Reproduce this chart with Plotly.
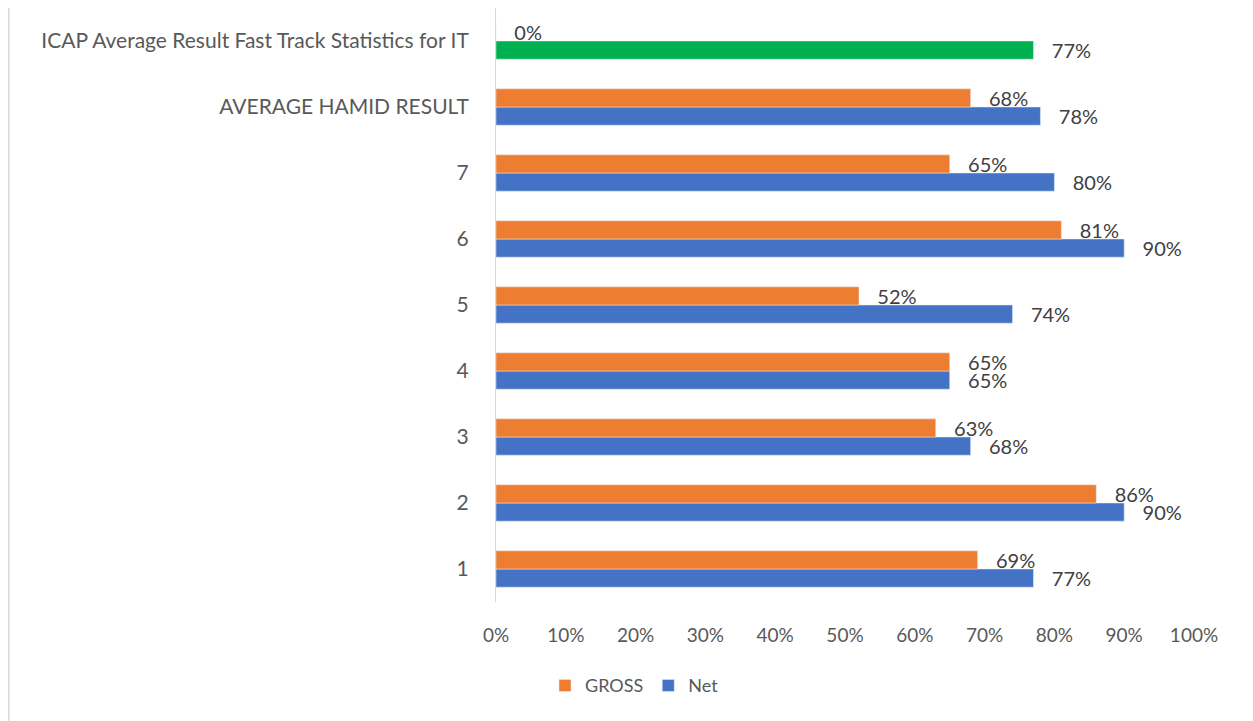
import plotly.graph_objects as go

categories = ["1", "2", "3", "4", "5", "6", "7", "AVERAGE HAMID RESULT",
              "ICAP Average Result Fast Track Statistics for IT"]
gross = [0.69, 0.86, 0.63, 0.65, 0.52, 0.81, 0.65, 0.68, 0.0]
net = [0.77, 0.90, 0.68, 0.65, 0.74, 0.90, 0.80, 0.78, 0.77]
net_colors = ["#4472C4"] * 8 + ["#00B050"]

FONT = "Lato, 'Open Sans', sans-serif"
PAD = "\u00a0\u00a0\u00a0"  # Excel puts labels a little away from the bar end

fig = go.Figure()
fig.add_trace(go.Bar(
    y=categories, x=net, name="Net", orientation="h",
    marker=dict(color=net_colors),
    texttemplate=PAD + "%{x:.0%}", textposition="outside",
    constraintext="none",
    textfont=dict(color="#404040", size=20), cliponaxis=False,
))
fig.add_trace(go.Bar(
    y=categories, x=gross, name="GROSS", orientation="h",
    marker=dict(color="#ED7D31"),
    texttemplate=PAD + "%{x:.0%}", textposition="outside",
    constraintext="none",
    textfont=dict(color="#404040", size=20), cliponaxis=False,
))

fig.update_layout(
    width=1253, height=721,
    barmode="group", bargap=0.45, bargroupgap=0,
    plot_bgcolor="white", paper_bgcolor="white",
    font=dict(family=FONT, size=19, color="#595959"),
    margin=dict(l=488, r=67, t=0, b=127, pad=0),
    showlegend=True,
    legend=dict(orientation="h", traceorder="reversed",
                xref="container", yref="container",
                x=0.5, xanchor="center", y=0.06, yanchor="middle",
                font=dict(size=18, color="#595959"), itemwidth=30),
    xaxis=dict(range=[0, 1], dtick=0.1, tickformat=".0%",
               showgrid=False, zeroline=False, showline=False,
               ticks="", ticklabelstandoff=20),
    yaxis=dict(showline=True, linecolor="#D9D9D9", linewidth=1,
               showgrid=False, ticks="", ticklabelstandoff=22,
               tickfont=dict(size=21), automargin=False),
    shapes=[dict(type="line", xref="paper", yref="paper",
                 x0=-0.698, x1=-0.698, y0=-0.22, y1=1.02,
                 line=dict(color="#D9D9D9", width=1.5))],
)

fig.write_html("out.html")
